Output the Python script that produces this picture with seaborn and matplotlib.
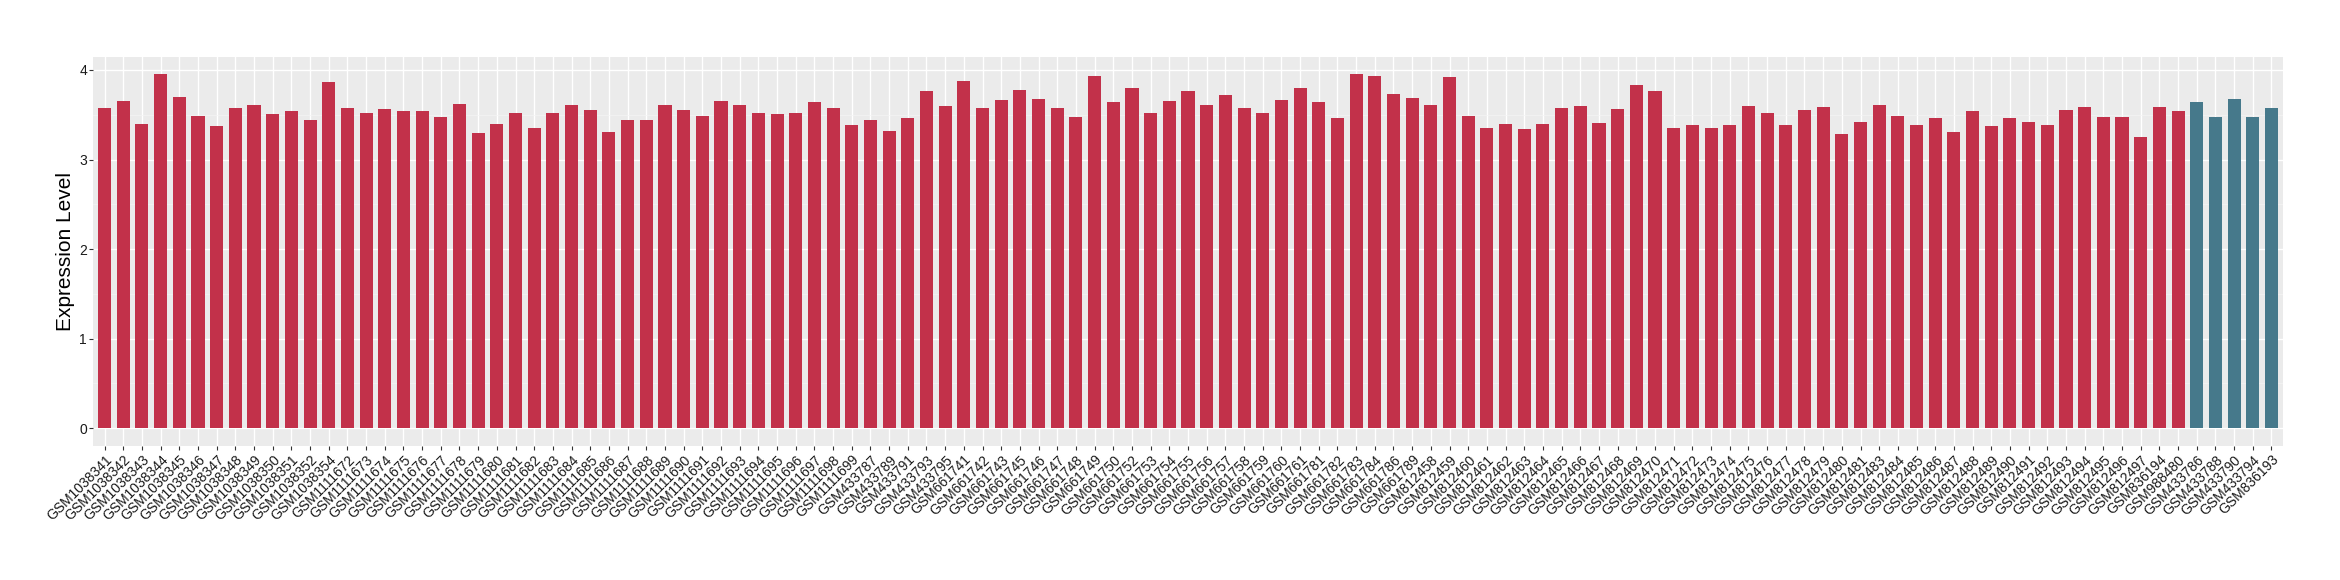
import matplotlib
matplotlib.use("Agg")
import matplotlib.pyplot as plt
import seaborn as sns
import pandas as pd
from matplotlib.ticker import MultipleLocator

# --- data ---
red_samples = [
    "GSM1038341", "GSM1038342", "GSM1038343", "GSM1038344", "GSM1038345", "GSM1038346",
    "GSM1038347", "GSM1038348", "GSM1038349", "GSM1038350", "GSM1038351", "GSM1038352",
    "GSM1038354",
    "GSM1111672", "GSM1111673", "GSM1111674", "GSM1111675", "GSM1111676", "GSM1111677",
    "GSM1111678", "GSM1111679", "GSM1111680", "GSM1111681", "GSM1111682", "GSM1111683",
    "GSM1111684", "GSM1111685", "GSM1111686", "GSM1111687", "GSM1111688", "GSM1111689",
    "GSM1111690", "GSM1111691", "GSM1111692", "GSM1111693", "GSM1111694", "GSM1111695",
    "GSM1111696", "GSM1111697", "GSM1111698", "GSM1111699",
    "GSM433787", "GSM433789", "GSM433791", "GSM433793", "GSM433795",
    "GSM661741", "GSM661742", "GSM661743", "GSM661745", "GSM661746", "GSM661747",
    "GSM661748", "GSM661749", "GSM661750", "GSM661752", "GSM661753", "GSM661754",
    "GSM661755", "GSM661756", "GSM661757", "GSM661758", "GSM661759", "GSM661760",
    "GSM661761",
    "GSM661781", "GSM661782", "GSM661783", "GSM661784", "GSM661786", "GSM661789",
    "GSM812458", "GSM812459", "GSM812460", "GSM812461", "GSM812462", "GSM812463",
    "GSM812464", "GSM812465", "GSM812466", "GSM812467", "GSM812468", "GSM812469",
    "GSM812470", "GSM812471", "GSM812472", "GSM812473", "GSM812474", "GSM812475",
    "GSM812476", "GSM812477", "GSM812478", "GSM812479", "GSM812480", "GSM812481",
    "GSM812483", "GSM812484", "GSM812485", "GSM812486", "GSM812487", "GSM812488",
    "GSM812489", "GSM812490", "GSM812491", "GSM812492", "GSM812493", "GSM812494",
    "GSM812495", "GSM812496", "GSM812497",
    "GSM836194", "GSM988480",
]
red_values = [
    3.57, 3.65, 3.40, 3.95, 3.70, 3.49, 3.37, 3.57, 3.61, 3.51, 3.54, 3.44, 3.86,
    3.57, 3.52, 3.56, 3.54, 3.54, 3.48, 3.62, 3.30, 3.40, 3.52, 3.35, 3.52,
    3.61, 3.55, 3.31, 3.44, 3.44, 3.61, 3.55, 3.49, 3.65, 3.61, 3.52, 3.51,
    3.52, 3.64, 3.58, 3.39,
    3.44, 3.32, 3.46, 3.76, 3.60,
    3.88, 3.58, 3.66, 3.78, 3.68, 3.58, 3.47, 3.93, 3.64, 3.80, 3.52, 3.65,
    3.77, 3.61, 3.72, 3.57, 3.52, 3.66, 3.80,
    3.64, 3.46, 3.96, 3.93, 3.73, 3.69,
    3.61, 3.92, 3.49, 3.35, 3.40, 3.34, 3.40, 3.57, 3.60, 3.41, 3.56, 3.83,
    3.76, 3.35, 3.39, 3.35, 3.39, 3.60, 3.52, 3.38, 3.55, 3.59, 3.29, 3.42,
    3.61, 3.49, 3.38, 3.46, 3.31, 3.54, 3.37, 3.46, 3.42, 3.38, 3.55, 3.59,
    3.48, 3.48, 3.25,
    3.59, 3.54,
]
teal_samples = ["GSM433786", "GSM433788", "GSM433790", "GSM433794", "GSM836193"]
teal_values = [3.64, 3.47, 3.67, 3.47, 3.58]

df = pd.DataFrame({
    "sample": red_samples + teal_samples,
    "value": red_values + teal_values,
    "group": ["red"] * len(red_samples) + ["teal"] * len(teal_samples),
})
colors = {"red": "#C2314A", "teal": "#46798B"}

plt.rcParams["font.family"] = ["Liberation Sans", "DejaVu Sans"]

fig = plt.figure(figsize=(23.4, 5.8), dpi=100)
ax = fig.add_axes([0.0399, 0.2316, 0.9356, 0.6707])

sns.barplot(data=df, x="sample", y="value", hue="group", order=df["sample"],
            palette=colors, width=0.7, saturation=1, dodge=False,
            errorbar=None, legend=False, linewidth=0, ax=ax)

# ggplot-like grey panel
ax.set_facecolor("#EBEBEB")
for s in ax.spines.values():
    s.set_visible(False)
ax.set_axisbelow(True)
ax.yaxis.set_major_locator(MultipleLocator(1))
ax.yaxis.set_minor_locator(MultipleLocator(0.5))
ax.grid(which="major", color="white", linewidth=1.0)
ax.grid(which="minor", axis="y", color="#F5F5F5", linewidth=0.5)
ax.set_xlim(-0.6, len(df) - 0.4)
ax.set_ylim(-0.194, 4.148)

ax.tick_params(axis="both", which="major", length=3, color="#333333",
               labelsize=10, labelcolor="#1A1A1A", pad=2)
ax.tick_params(axis="y", which="major", pad=1.5)
ax.tick_params(axis="y", which="minor", length=0)
plt.setp(ax.get_xticklabels(), rotation=45, ha="right", va="top",
         rotation_mode="anchor")

ax.set_xlabel("")
ax.set_ylabel("Expression Level", fontsize=15, labelpad=3)

fig.savefig("out.png", dpi=100, facecolor="white")
